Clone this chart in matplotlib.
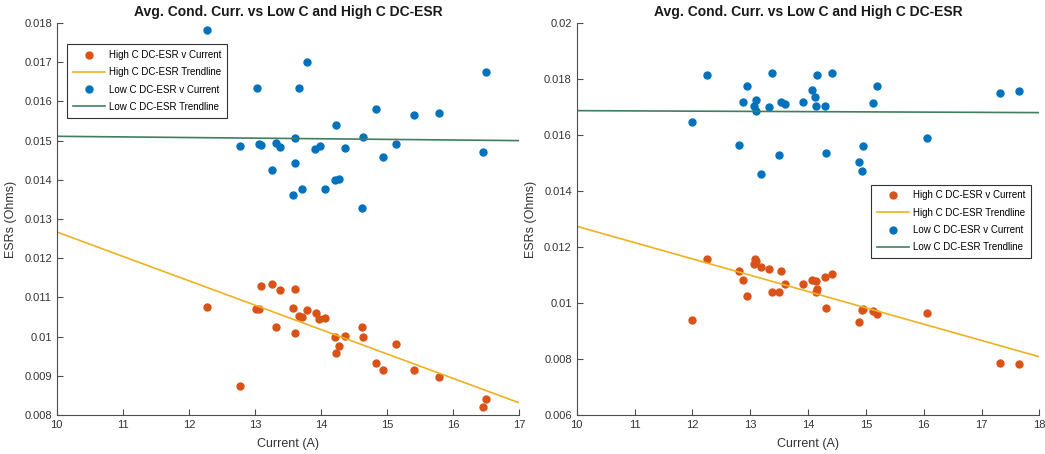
import numpy as np
import matplotlib
matplotlib.use("Agg")
import matplotlib.pyplot as plt

plt.rcParams["font.family"] = ["Liberation Sans", "DejaVu Sans"]

# ---- left panel data ----
left_x = [12.27, 12.78, 13.02, 13.06, 13.09, 13.26, 13.32, 13.38, 13.58, 13.61,
          13.61, 13.67, 13.71, 13.78, 13.92, 13.97, 14.06, 14.21, 14.23, 14.27,
          14.36, 14.62, 14.63, 14.83, 14.93, 15.14, 15.40, 15.79, 16.45, 16.50]
left_high = [0.01076, 0.00874, 0.01070, 0.01070, 0.01128, 0.01134, 0.01024, 0.01120, 0.01073, 0.01122,
             0.01008, 0.01053, 0.01049, 0.01067, 0.01059, 0.01045, 0.01048, 0.00998, 0.00958, 0.00977,
             0.01001, 0.01024, 0.00998, 0.00933, 0.00914, 0.00981, 0.00914, 0.00896, 0.00820, 0.00841]
left_low_x = [12.27, 12.78, 13.03, 13.06, 13.09, 13.26, 13.32, 13.38, 13.58, 13.61,
              13.61, 13.67, 13.71, 13.78, 13.91, 13.98, 14.06, 14.21, 14.22, 14.27,
              14.36, 14.62, 14.63, 14.83, 14.93, 15.14, 15.40, 15.79, 16.45, 16.50]
left_low = [0.01781, 0.01487, 0.01633, 0.01492, 0.01488, 0.01426, 0.01495, 0.01484, 0.01361, 0.01443,
            0.01507, 0.01633, 0.01376, 0.01700, 0.01478, 0.01487, 0.01376, 0.01399, 0.01539, 0.01403,
            0.01482, 0.01327, 0.01508, 0.01580, 0.01459, 0.01491, 0.01566, 0.01570, 0.01470, 0.01676]
left_trend_x = [10, 17]
left_trend_high = [0.01267, 0.00831]
left_trend_low = [0.01511, 0.01500]

# ---- right panel data ----
right_x = [11.99, 12.25, 12.81, 12.88, 12.95, 13.06, 13.09, 13.10, 13.19, 13.33,
           13.37, 13.50, 13.53, 13.60, 13.91, 14.07, 14.13, 14.15, 14.14, 14.29,
           14.31, 14.42, 14.88, 14.93, 14.95, 15.12, 15.20, 16.05, 17.32, 17.64]
right_high = [0.00941, 0.01158, 0.01116, 0.01082, 0.01026, 0.01140, 0.01156, 0.01150, 0.01128, 0.01122,
              0.01038, 0.01038, 0.01114, 0.01067, 0.01067, 0.01081, 0.01079, 0.01051, 0.01041, 0.01094,
              0.00983, 0.01102, 0.00933, 0.00976, 0.00978, 0.00971, 0.00959, 0.00965, 0.00787, 0.00782]
right_low_x = [11.99, 12.25, 12.81, 12.88, 12.95, 13.06, 13.10, 13.10, 13.19, 13.33,
               13.37, 13.50, 13.53, 13.60, 13.91, 14.07, 14.12, 14.14, 14.15, 14.29,
               14.31, 14.42, 14.88, 14.93, 14.95, 15.12, 15.20, 16.05, 17.32, 17.64]
right_low = [0.01646, 0.01814, 0.01565, 0.01719, 0.01775, 0.01704, 0.01725, 0.01684, 0.01462, 0.01699,
             0.01822, 0.01527, 0.01717, 0.01711, 0.01717, 0.01760, 0.01735, 0.01704, 0.01814, 0.01704,
             0.01535, 0.01822, 0.01503, 0.01473, 0.01561, 0.01714, 0.01775, 0.01588, 0.01749, 0.01757]
right_trend_x = [10, 18]
right_trend_high = [0.01274, 0.00808]
right_trend_low = [0.01687, 0.01680]

labels = ["High C DC-ESR v Current", "High C DC-ESR Trendline",
          "Low C DC-ESR v Current", "Low C DC-ESR Trendline"]
orange = "#D95319"
blue = "#0072BD"
yellow = "#EDB120"
green = "#3F7F5F"
axcol = "#4D4D4D"

fig = plt.figure(figsize=(10.45, 4.54), dpi=100)
ax1 = fig.add_axes([0.0543, 0.0859, 0.4427, 0.8634])
ax2 = fig.add_axes([0.5519, 0.0859, 0.4427, 0.8634])


def draw(ax, hx, hy, lx, ly, tx, th, tl, xlim, ylim, yticks, legloc, anchor):
    ax.plot(hx, hy, "o", color=orange, ms=5, label=labels[0])
    ax.plot(tx, th, "-", color=yellow, lw=1.2, label=labels[1])
    ax.plot(lx, ly, "o", color=blue, ms=5, label=labels[2])
    ax.plot(tx, tl, "-", color=green, lw=1.2, label=labels[3])
    ax.set_xlim(*xlim)
    ax.set_ylim(*ylim)
    ax.set_xticks(range(xlim[0], xlim[1] + 1))
    ax.set_yticks(yticks)
    ax.set_yticklabels(["{:g}".format(round(v, 4)) for v in yticks])
    for s in ["top", "right"]:
        ax.spines[s].set_visible(False)
    for s in ["left", "bottom"]:
        ax.spines[s].set_color(axcol)
    ax.tick_params(direction="in", length=4, colors=axcol, labelsize=8, labelcolor="#333333")
    ax.set_xlabel("Current (A)", fontsize=9, color="#333333", labelpad=6)
    ax.set_ylabel("ESRs (Ohms)", fontsize=9, color="#333333", labelpad=5)
    ax.set_title("Avg. Cond. Curr. vs Low C and High C DC-ESR", fontsize=10,
                 fontweight="bold", color="#1a1a1a", pad=5)
    leg = ax.legend(loc=legloc, bbox_to_anchor=anchor, fontsize=7, frameon=True,
                    fancybox=False, edgecolor="#333333", handlelength=3.3,
                    borderpad=0.6, labelspacing=0.75, handletextpad=0.4,
                    borderaxespad=0, framealpha=1)
    leg.get_frame().set_linewidth(0.8)
    return leg


draw(ax1, left_x, left_high, left_low_x, left_low, left_trend_x, left_trend_high,
     left_trend_low, (10, 17), (0.008, 0.018),
     [0.008 + 0.001 * i for i in range(11)], "upper left", (0.0216, 0.946))
draw(ax2, right_x, right_high, right_low_x, right_low, right_trend_x, right_trend_high,
     right_trend_low, (10, 18), (0.006, 0.02),
     [0.006 + 0.002 * i for i in range(8)], "lower right", (0.982, 0.40))

fig.savefig("out.png", dpi=100)
